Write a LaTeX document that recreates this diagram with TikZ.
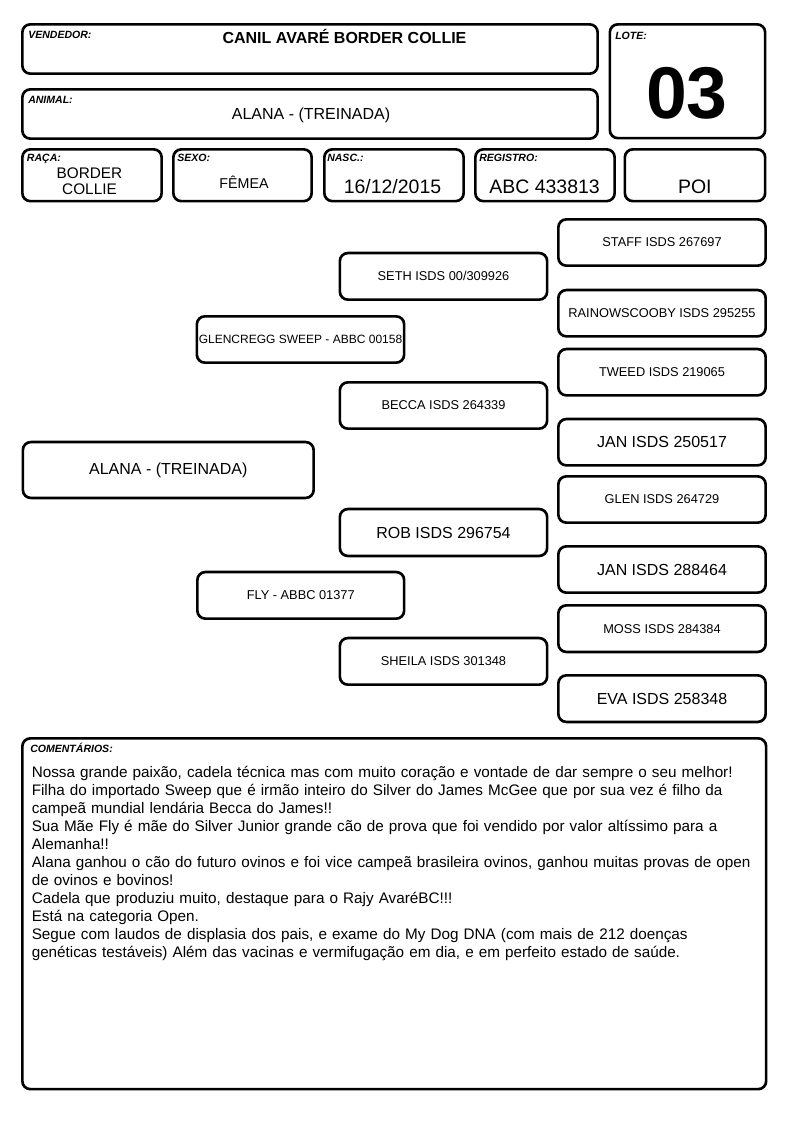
\documentclass[tikz,border=0pt]{standalone}
\usepackage{fontspec}
\setmainfont{Liberation Sans}
\newcommand\fs[2]{\fontsize{#1pt}{#2pt}\selectfont}
\tikzset{
  frame/.style={draw=black, line width=2pt, rounded corners=6pt, fill=white, inner sep=0pt},
  lbl/.style={font=\fs{7.9}{9}\bfseries\itshape, anchor=base west, inner sep=0pt},
  val/.style={anchor=base, inner sep=0pt, align=center},
  small/.style={font=\fs{9.6}{11}},
  tiny/.style={font=\fs{9}{10}},
  large/.style={font=\fs{12}{14}},
}
% name, x1, y1, x2, y2 (outer pixel edges), extra options, text
\newcommand\frm[7]{%
  \node[frame, minimum width={0.75pt*(#4-#2-2.7)}, minimum height={0.75pt*(#5-#3-2.7)}, #6]
    (#1) at ({(#2+#4)/2},{(#3+#5)/2}) {#7};}
\begin{document}
\begin{tikzpicture}[x=0.75pt, y=-0.75pt]
\useasboundingbox (0,0) rectangle (794,1123);

% ---------- header ----------
\frm{vend}{21}{23}{599}{75}{}{}
\frm{lote}{608.5}{23}{766.5}{139.5}{}{}
\frm{anim}{21}{88}{599}{140}{}{}
\frm{raca}{21}{148}{163}{202.5}{}{}
\frm{sexo}{172}{148}{313}{202.5}{}{}
\frm{nasc}{323}{148}{465}{202.5}{}{}
\frm{reg}{474}{148}{616}{202.5}{}{}
\frm{poi}{623.5}{148}{766.5}{202.5}{}{}

\node[lbl] (lvend) at (28,38.7) {VENDEDOR:};
\node[lbl] (llote) at (615,39.3) {LOTE:};
\node[lbl] (lanim) at (28,103.3) {ANIMAL:};
\node[lbl] (lraca) at (26.7,162) {RAÇA:};
\node[lbl] (lsexo) at (177,162) {SEXO:};
\node[lbl] (lnasc) at (327,162) {NASC.:};
\node[lbl] (lreg) at (479,162) {REGISTRO:};

\node[val, font=\fs{12}{14}\bfseries] (tvend) at (344.5,43.5) {CANIL AVARÉ BORDER COLLIE};
\node[val, font=\fs{55}{60}\bfseries] (tlote) at (687,118.3) {03};
\node[val, font=\fs{12}{14}] (tanim) at (311,120) {ALANA - (TREINADA)};
\node[val, font=\fs{11.5}{12.5}] (traca) at (89.5,195) {BORDER\\COLLIE};
\node[val, font=\fs{10.7}{12}] (tsexo) at (244,188.3) {FÊMEA};
\node[val, font=\fs{14.6}{16}] (tnasc) at (392.5,193.3) {16/12/2015};
\node[val, font=\fs{14.6}{16}] (treg) at (544.6,193.3) {ABC 433813};
\node[val, font=\fs{14.6}{16}] (tpoi) at (694.8,193.3) {POI};

% ---------- pedigree ----------
\frm{staff}{557}{218}{767}{267}{small}{STAFF ISDS 267697}
\frm{seth}{338.5}{251.7}{548.5}{301}{small}{SETH ISDS 00/309926}
\frm{rain}{557}{288.7}{767}{337.7}{small}{RAINOWSCOOBY ISDS 295255}
\frm{sweep}{195.5}{315}{405.5}{364}{tiny}{GLENCREGG SWEEP - ABBC 00158}
\frm{tweed}{557}{347.7}{767}{396.7}{small}{TWEED ISDS 219065}
\frm{becca}{338.5}{381}{548.5}{430}{small}{BECCA ISDS 264339}
\frm{jana}{557}{417.7}{767}{466.7}{large}{JAN ISDS 250517}
\frm{alana}{21.5}{440.7}{315}{499.3}{large}{ALANA - (TREINADA)}
\frm{glen}{557}{475}{767}{524}{small}{GLEN ISDS 264729}
\frm{rob}{338.5}{507.7}{548.5}{557.3}{large}{ROB ISDS 296754}
\frm{janb}{557}{545}{767}{594}{large}{JAN ISDS 288464}
\frm{fly}{196}{570.7}{405.5}{620}{small}{FLY - ABBC 01377}
\frm{moss}{557}{604}{767}{653.3}{small}{MOSS ISDS 284384}
\frm{sheila}{338.5}{636.7}{548.5}{686}{small}{SHEILA ISDS 301348}
\frm{eva}{557}{674}{767}{723.3}{large}{EVA ISDS 258348}

% ---------- comments ----------
\frm{com}{21}{737}{767.5}{1090.5}{}{}
\node[lbl] (lcom) at (30,752.7) {COMENTÁRIOS:};
\node[anchor=base west, inner sep=0pt, text width=560pt, align=left, font=\fs{11.45}{13.45}] (tcom) at (31.5,777.7) {%
Nossa grande paixão, cadela técnica mas com muito coração e vontade de dar sempre o seu melhor!\\
Filha do importado Sweep que é irmão inteiro do Silver do James McGee que por sua vez é filho da\\
campeã mundial lendária Becca do James!!\\
Sua Mãe Fly é mãe do Silver Junior grande cão de prova que foi vendido por valor altíssimo para a\\
Alemanha!!\\
Alana ganhou o cão do futuro ovinos e foi vice campeã brasileira ovinos, ganhou muitas provas de open\\
de ovinos e bovinos!\\
Cadela que produziu muito, destaque para o Rajy AvaréBC!!!\\
Está na categoria Open.\\
Segue com laudos de displasia dos pais, e exame do My Dog DNA (com mais de 212 doenças\\
genéticas testáveis) Além das vacinas e vermifugação em dia, e em perfeito estado de saúde.};
\end{tikzpicture}
\end{document}
